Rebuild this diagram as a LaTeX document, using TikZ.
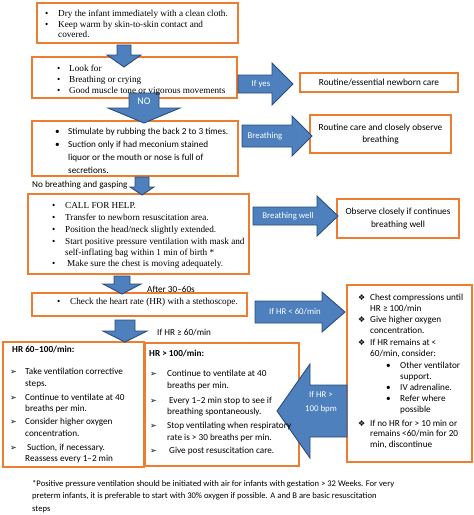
\documentclass[tikz,border=0pt]{standalone}
\usepackage{fontspec}
\setmainfont{Liberation Serif}
\newfontfamily\calfont{Carlito}
\newfontfamily\symfont{DejaVu Sans}
\definecolor{borange}{HTML}{ED7D31}
\definecolor{abfill}{HTML}{4D80BD}
\definecolor{abdraw}{HTML}{2B4C7E}
\newcounter{ln}
% generic text line: [style]{x}{y}{text}
\newcommand\Ln[4][tm]{\stepcounter{ln}\node[#1] (l\theln) at (#2,#3) {#4};}
% item: {style}{bullet x}{text x}{y}{bullet}{text}
\newcommand\Item[6]{\stepcounter{ln}\node[#1] (b\theln) at (#2,#4) {#5};\node[#1] (l\theln) at (#3,#4) {#6};}
% block arrow polygon: {tail}{headbase}{tip}{centre}{shaft half}{head half}  (horizontal)
\newcommand\HArrow[6]{\draw[barrow] (#1,#4-#5) -- (#2,#4-#5) -- (#2,#4-#6) -- (#3,#4) -- (#2,#4+#6) -- (#2,#4+#5) -- (#1,#4+#5) -- cycle;}
% vertical: {centre x}{top}{headbase}{tip}{shaft half}{head half}
\newcommand\VArrow[6]{\draw[barrow] (#1-#5,#2) -- (#1+#5,#2) -- (#1+#5,#3) -- (#1+#6,#3) -- (#1,#4) -- (#1-#6,#3) -- (#1-#5,#3) -- cycle;}
\tikzset{
  obox/.style={draw=borange, line width=1.3pt, fill=white, inner sep=0pt, rectangle},
  barrow/.style={fill=abfill, draw=abdraw, line width=0.9pt, line join=miter},
  tm/.style={anchor=base west, inner sep=0pt, font=\fontsize{9.2}{10}\selectfont},
  cb/.style={anchor=base west, inner sep=0pt, font=\calfont\fontsize{9.2}{10}\selectfont},
  cbb/.style={anchor=base west, inner sep=0pt, font=\calfont\bfseries\fontsize{9.2}{10}\selectfont},
  sy/.style={anchor=base west, inner sep=0pt, font=\symfont\fontsize{8}{10}\selectfont},
  fn/.style={anchor=base west, inner sep=0pt, font=\calfont\fontsize{8.6}{10}\selectfont},
  atext/.style={text=white, inner sep=0pt, align=center, font=\calfont\fontsize{8.8}{12}\selectfont},
  stext/.style={align=center, font=\calfont\fontsize{9.3}{12.5}\selectfont},
}
\begin{document}
\begin{tikzpicture}[x=1pt,y=-1pt]
\useasboundingbox[fill=white] (0,0) rectangle (474,515);

% ---------- boxes ----------
\node[obox, minimum width=201pt, minimum height=40pt] (box1) at (137.5,23) {};
\node[obox, minimum width=205pt, minimum height=41pt] (box2) at (134.5,77.5) {};
\node[obox, minimum width=206pt, minimum height=55pt] (box3) at (135,148.5) {};
\node[obox, minimum width=221pt, minimum height=80pt] (box4) at (138.5,234) {};
\node[obox, minimum width=215pt, minimum height=23pt] (box5) at (139.5,304.5) {};
\node[obox, minimum width=141pt, minimum height=125pt] (box6) at (73.5,404.5) {};
\node[obox, minimum width=154pt, minimum height=123pt] (box7) at (222,404.5) {};
\node[obox, minimum width=125pt, minimum height=177pt] (box8) at (409.5,373.5) {};
\node[obox, minimum width=158pt, minimum height=19pt, stext] (r1) at (379,82.5) {Routine/essential newborn care};
\node[obox, minimum width=141pt, minimum height=38pt, stext] (r2) at (380.5,134) {Routine care and closely observe\\breathing};
\node[obox, minimum width=122pt, minimum height=39pt, stext] (r3) at (398,218.5) {Observe closely if continues\\breathing well};

% ---------- block arrows ----------
\VArrow{124}{45}{55}{67}{7}{17}
\VArrow{144}{93}{108}{123}{15}{36}
\VArrow{142}{177}{187}{195}{7}{12}
\VArrow{122}{276}{284}{294}{8}{19}
\VArrow{125}{320}{331}{342}{10}{22}
\HArrow{238}{272}{293}{84}{9}{21}
\HArrow{242}{292}{312}{136}{11}{20}
\HArrow{253}{317}{338}{216}{9}{20}
\HArrow{255}{322}{345}{312}{11}{20}
\HArrow{347}{310}{277}{411}{26}{47}

\node[atext, font=\calfont\fontsize{10}{12}\selectfont] (ano) at (144,101) {NO};
\node[atext] (ayes) at (261,84) {If yes};
\node[atext] (abr) at (265,136) {Breathing};
\node[atext] (abw) at (288,216) {Breathing well};
\node[atext] (ahr1) at (295,312) {If HR < 60/min};
\node[atext, font=\calfont\fontsize{8.8}{14}\selectfont] (ahr2) at (321,402) {If HR >\\100 bpm};

% ---------- box 1 ----------
\Item{tm}{45}{58}{16}{•}{Dry the infant immediately with a clean cloth.}
\Item{tm}{45}{58}{27}{•}{Keep warm by skin-to-skin contact and}
\Ln{58}{37}{covered.}
% ---------- box 2 ----------
\Item{tm}{57}{69}{71}{•}{Look for}
\Item{tm}{57}{69}{82}{•}{Breathing or crying}
\Item{tm}{57}{69}{93}{•}{Good muscle tone or vigorous movements}
% ---------- box 3 ----------
\Item{cb}{55}{68}{134}{•}{Stimulate by rubbing the back 2 to 3 times.}
\Item{cb}{55}{68}{147}{•}{Suction only if had meconium stained}
\Ln[cb]{68}{160}{liquor or the mouth or nose is full of}
\Ln[cb]{68}{173}{secretions.}
\Ln[cb]{32}{187}{No breathing and gasping}
% ---------- box 4 ----------
\Item{tm}{52}{65}{208}{•}{CALL FOR HELP.}
\Item{tm}{52}{65}{220}{•}{Transfer to newborn resuscitation area.}
\Item{tm}{52}{65}{232}{•}{Position the head/neck slightly extended.}
\Item{tm}{52}{65}{244}{•}{Start positive pressure ventilation with mask and}
\Ln{65}{255}{self-inflating bag within 1 min of birth *}
\Item{tm}{52}{67}{266}{•}{Make sure the chest is moving adequately.}
\Ln[cb]{147}{292}{After 30–60s}
% ---------- box 5 ----------
\Item{tm}{57}{70}{304}{•}{Check the heart rate (HR) with a stethoscope.}
\Ln[cb]{157}{335}{If HR ≥ 60/min}
% ---------- box 6 ----------
\Ln[cbb]{12}{352}{HR 60–100/min:}
\Item{sy}{10}{25}{374}{➢}{}
\Ln[cb]{25}{374}{Take ventilation corrective}
\Ln[cb]{25}{386}{steps.}
\Item{sy}{10}{25}{400}{➢}{}
\Ln[cb]{25}{400}{Continue to ventilate at 40}
\Ln[cb]{25}{411}{breaths per min.}
\Item{sy}{10}{25}{424}{➢}{}
\Ln[cb]{25}{424}{Consider higher oxygen}
\Ln[cb]{25}{436}{concentration.}
\Item{sy}{10}{25}{450}{➢}{}
\Ln[cb]{27}{450}{Suction, if necessary.}
\Ln[cb]{25}{461}{Reassess every 1–2 min}
% ---------- box 7 ----------
\Ln[cbb]{149}{356}{HR > 100/min:}
\Item{sy}{150}{167}{376}{➢}{}
\Ln[cb]{167}{376}{Continue to ventilate at 40}
\Ln[cb]{167}{388}{breaths per min.}
\Item{sy}{150}{167}{403}{➢}{}
\Ln[cb]{169}{403}{Every 1–2 min stop to see if}
\Ln[cb]{167}{414}{breathing spontaneously.}
\Item{sy}{150}{167}{428}{➢}{}
\Ln[cb]{167}{428}{Stop ventilating when respiratory}
\Ln[cb]{167}{440}{rate is > 30 breaths per min.}
\Item{sy}{150}{167}{453}{➢}{}
\Ln[cb]{169}{453}{Give post resuscitation care.}
% ---------- box 8 ----------
\Item{sy}{358}{370}{300}{❖}{}
\Ln[cb]{370}{300}{Chest compressions until}
\Ln[cb]{370}{311}{HR ≥ 100/min}
\Item{sy}{358}{370}{322}{❖}{}
\Ln[cb]{370}{322}{Give higher oxygen}
\Ln[cb]{370}{333}{concentration.}
\Item{sy}{358}{370}{345}{❖}{}
\Ln[cb]{370}{345}{If HR remains at <}
\Ln[cb]{370}{356}{60/min, consider:}
\Item{cb}{386}{400}{368}{•}{Other ventilator}
\Ln[cb]{400}{379}{support.}
\Item{cb}{386}{400}{390}{•}{IV adrenaline.}
\Item{cb}{386}{400}{401}{•}{Refer where}
\Ln[cb]{400}{412}{possible}
\Item{sy}{358}{370}{426}{❖}{}
\Ln[cb]{370}{426}{If no HR for > 10 min or}
\Ln[cb]{370}{436}{remains <60/min for 20}
\Ln[cb]{370}{447}{min, discontinue}
% ---------- footnote ----------
\Ln[fn]{32}{486}{*Positive pressure ventilation should be initiated with air for infants with gestation > 32 Weeks. For very}
\Ln[fn]{32}{498}{preterm infants, it is preferable to start with 30\% oxygen if possible. A and B are basic resuscitation}
\Ln[fn]{32}{511}{steps}
\end{tikzpicture}
\end{document}
